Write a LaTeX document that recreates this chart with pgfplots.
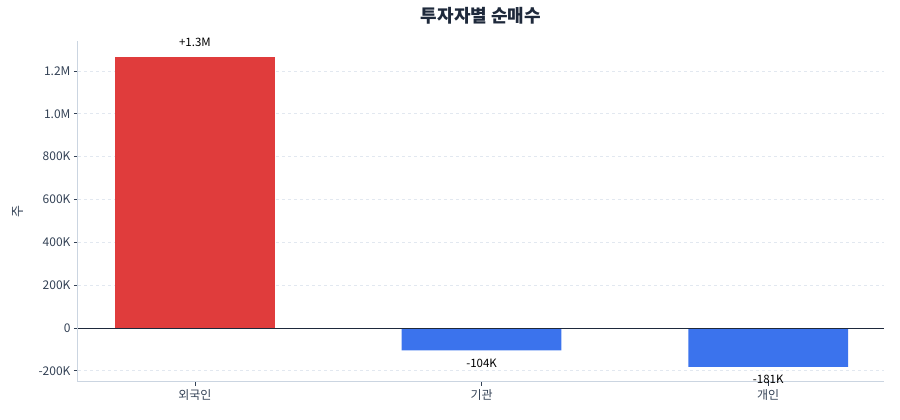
\documentclass[border=0pt]{standalone}
\usepackage{fontspec}
\setmainfont{Noto Sans CJK KR}
\usepackage{pgfplots}
\pgfplotsset{compat=1.18}

\definecolor{barred}{RGB}{224,60,60}
\definecolor{barblue}{RGB}{59,115,237}
\definecolor{spine}{RGB}{203,213,225}
\definecolor{gridc}{RGB}{226,232,240}
\definecolor{txt}{RGB}{51,65,85}
\definecolor{zeroc}{RGB}{30,41,59}

\begin{document}
\begin{tikzpicture}
\path (-78pt,-38pt) rectangle (822pt,382pt);
\begin{axis}[
    at={(0,0)}, anchor=south west,
    scale only axis,
    width=806pt, height=341pt,
    xmin=-0.408, xmax=2.404,
    ymin=-252000, ymax=1340000,
    axis x line*=bottom, axis y line*=left,
    axis line style={spine, line width=1pt},
    xtick={0,1,2},
    xticklabels={외국인,기관,개인},
    ytick={-200000,0,200000,400000,600000,800000,1000000,1200000},
    yticklabels={-200K,0,200K,400K,600K,800K,1.0M,1.2M},
    scaled y ticks=false,
    tick align=outside,
    major tick length=4pt,
    tick style={txt, line width=0.8pt},
    ticklabel style={font=\fontsize{12}{14}\selectfont, text=txt},
    /pgf/number format/assume math mode=true,
    ymajorgrids,
    grid style={gridc, dashed, line width=0.8pt},
    ylabel={주},
    ylabel style={at={(axis description cs:-0.0744,0.5)}, anchor=center,
        font=\fontsize{13}{15}\selectfont, text=txt},
    title={\bfseries 투자자별 순매수},
    title style={at={(0.5,1)}, anchor=center, yshift=19pt,
        font=\fontsize{18}{21}\selectfont, text=zeroc},
    ybar, bar width=0.557, bar shift=0pt,
    point meta=explicit symbolic,
    nodes near coords={\pgfplotspointmeta},
    every node near coord/.append style={font=\fontsize{11.5}{13}\selectfont, text=black},
]
\addplot[fill=barred, draw=none,
    every node near coord/.append style={anchor=center, yshift=15pt}]
    coordinates {(0,1265000) [+1.3M]};
\addplot[fill=barblue, draw=none,
    every node near coord/.append style={anchor=center, yshift=-13pt}]
    coordinates {(1,-104000) [-104K] (2,-181000) [-181K]};
\draw[zeroc, line width=1pt] (axis cs:-0.408,0) -- (axis cs:2.404,0);
\end{axis}
\end{tikzpicture}
\end{document}
